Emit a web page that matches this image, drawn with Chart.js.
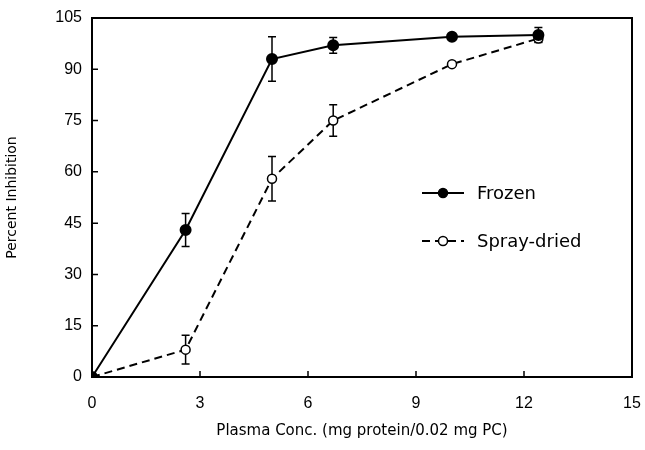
<!DOCTYPE html>
<html>
<head>
<meta charset="utf-8">
<script src="https://cdn.jsdelivr.net/npm/chart.js"></script>
<style>
  html, body { margin: 0; padding: 0; background: #fff; }
  #wrap { width: 645px; height: 450px; }
</style>
</head>
<body>
<div id="wrap"><canvas id="grafico" width="645" height="450"></canvas></div>
<script>
// Dados
const concentracoes = [0, 2.6, 5, 6.7, 10, 12.4];
const frozen = [0, 43, 93, 97, 99.5, 100];
const frozenErr = [0, 4.8, 6.5, 2.3, 0, 2.2];
const sprayDried = [0, 8, 58, 75, 91.5, 99];
const sprayDriedErr = [0, 4.2, 6.5, 4.6, 0, 1];
const xTicks = [0, 3, 6, 9, 12, 15];
const yTicks = [0, 15, 30, 45, 60, 75, 90, 105];
const rotulos = ["Frozen", "Spray-dried"];

const fonte = "'Liberation Sans', Arial, sans-serif";
const fonteLarga = "'DejaVu Sans', sans-serif";

function pontos(ys) {
  return concentracoes.map((x, i) => ({ x: x, y: ys[i] }));
}

// Barras de erro verticais com "chapéu"
const barrasErro = {
  id: "barrasErro",
  beforeDatasetsDraw(chart) {
    const ctx = chart.ctx;
    const erros = [frozenErr, sprayDriedErr];
    ctx.save();
    ctx.strokeStyle = "#000";
    ctx.lineWidth = 1.5;
    chart.data.datasets.forEach((ds, d) => {
      ds.data.forEach((p, i) => {
        const e = erros[d][i];
        if (!e) return;
        const px = chart.scales.x.getPixelForValue(p.x);
        const top = chart.scales.y.getPixelForValue(p.y + e);
        const bot = chart.scales.y.getPixelForValue(p.y - e);
        ctx.beginPath();
        ctx.moveTo(px, top); ctx.lineTo(px, bot);
        ctx.moveTo(px - 4, top); ctx.lineTo(px + 4, top);
        ctx.moveTo(px - 4, bot); ctx.lineTo(px + 4, bot);
        ctx.stroke();
      });
    });
    ctx.restore();
  }
};

// Moldura e marcas dos eixos para dentro
const moldura = {
  id: "moldura",
  afterDraw(chart) {
    const { ctx, chartArea: a, scales } = chart;
    ctx.save();
    ctx.strokeStyle = "#000";
    ctx.lineWidth = 2;
    ctx.strokeRect(a.left, a.top, a.right - a.left, a.bottom - a.top);
    ctx.lineWidth = 1.5;
    ctx.beginPath();
    xTicks.forEach(v => {
      const px = scales.x.getPixelForValue(v);
      ctx.moveTo(px, a.bottom); ctx.lineTo(px, a.bottom - 6);
    });
    yTicks.forEach(v => {
      const py = scales.y.getPixelForValue(v);
      ctx.moveTo(a.left, py); ctx.lineTo(a.left + 6, py);
    });
    ctx.stroke();
    ctx.restore();
  }
};

// Legenda dentro da área do gráfico
const legenda = {
  id: "legenda",
  afterDraw(chart) {
    const { ctx, chartArea: a } = chart;
    const x0 = a.left + 330;
    const linhas = [a.top + 175, a.top + 223];
    ctx.save();
    ctx.font = "18px " + fonteLarga;
    ctx.textBaseline = "middle";
    chart.data.datasets.forEach((ds, i) => {
      const y = linhas[i];
      ctx.strokeStyle = "#000";
      ctx.lineWidth = 2;
      ctx.setLineDash(ds.borderDash || []);
      ctx.beginPath();
      ctx.moveTo(x0, y); ctx.lineTo(x0 + 42, y);
      ctx.stroke();
      ctx.setLineDash([]);
      ctx.beginPath();
      ctx.arc(x0 + 21, y, 4.5, 0, Math.PI * 2);
      ctx.fillStyle = ds.pointBackgroundColor;
      ctx.fill();
      ctx.lineWidth = 1.5;
      ctx.stroke();
      ctx.fillStyle = "#000";
      ctx.fillText(rotulos[i], x0 + 55, y + 1);
    });
    ctx.restore();
  }
};

new Chart(document.getElementById("grafico"), {
  type: "line",
  data: {
    datasets: [{
      label: rotulos[0],
      data: pontos(frozen),
      borderColor: "#000",
      borderWidth: 2,
      pointRadius: 5,
      pointBackgroundColor: "#000",
      pointBorderColor: "#000",
      tension: 0
    }, {
      label: rotulos[1],
      data: pontos(sprayDried),
      borderColor: "#000",
      borderWidth: 2,
      borderDash: [8, 5],
      pointRadius: 4.5,
      pointBorderWidth: 1.5,
      pointBackgroundColor: "#fff",
      pointBorderColor: "#000",
      tension: 0
    }]
  },
  options: {
    responsive: false,
    animation: false,
    layout: { autoPadding: false, padding: { top: 18, right: 13, left: 0, bottom: 0 } },
    plugins: { legend: { display: false }, tooltip: { enabled: false } },
    scales: {
      x: {
        type: "linear",
        min: 0, max: 15,
        afterBuildTicks: s => { s.ticks = xTicks.map(v => ({ value: v })); },
        afterFit: s => { s.height = 73; s.paddingLeft = 0; s.paddingRight = 0; },
        grid: { display: false, drawTicks: false },
        border: { display: false },
        ticks: { color: "#000", padding: 17, font: { family: fonte, size: 16 } },
        title: {
          display: true,
          text: "Plasma Conc. (mg protein/0.02 mg PC)",
          color: "#000",
          font: { family: fonteLarga, size: 15 },
          padding: { top: 0, bottom: 10 }
        }
      },
      y: {
        min: 0, max: 105,
        afterBuildTicks: s => { s.ticks = yTicks.map(v => ({ value: v })); },
        afterFit: s => { s.width = 92; s.paddingTop = 0; s.paddingBottom = 0; },
        grid: { display: false, drawTicks: false },
        border: { display: false },
        ticks: { color: "#000", padding: 10, font: { family: fonte, size: 16 } },
        title: {
          display: true,
          text: "Percent Inhibition",
          color: "#000",
          font: { family: fonteLarga, size: 14 },
          padding: { top: 4, bottom: 0 }
        }
      }
    }
  },
  plugins: [barrasErro, moldura, legenda]
});
</script>
</body>
</html>
